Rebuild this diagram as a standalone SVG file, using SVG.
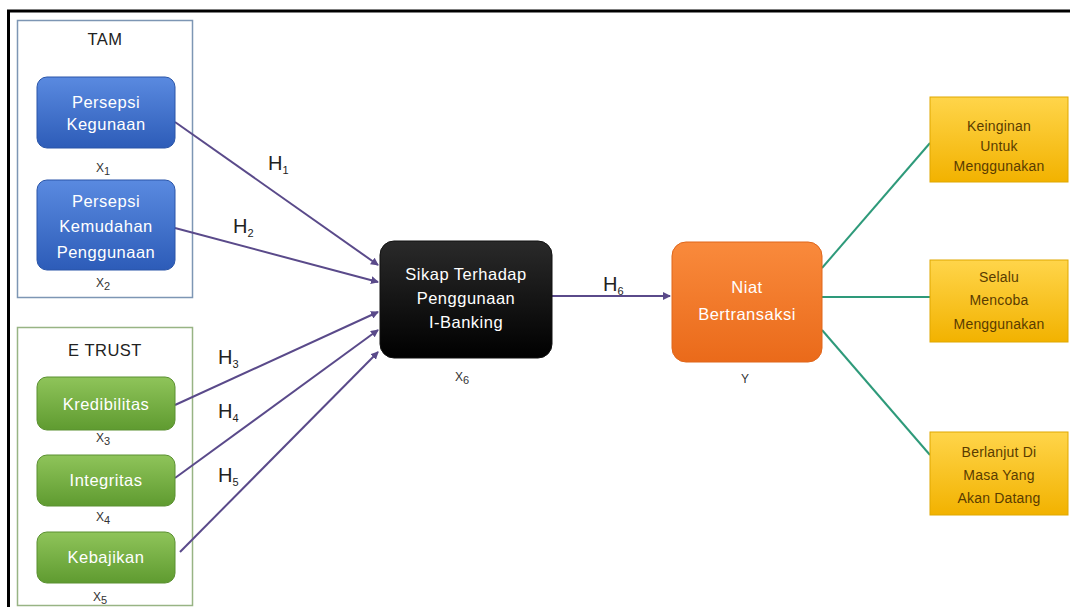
<svg xmlns="http://www.w3.org/2000/svg" width="1070" height="607" viewBox="0 0 1070 607">
<style>
.t{font-family:"Liberation Sans",Arial,sans-serif;font-size:16.5px;text-anchor:middle;letter-spacing:0.5px}
.w{fill:#ffffff}
.y{fill:#5a3c00;font-size:14px;letter-spacing:0.2px}
.lbl{font-family:"Liberation Sans",Arial,sans-serif;font-size:20px;fill:#222}
.sub{font-size:11px}
.xl{font-family:"Liberation Sans",Arial,sans-serif;font-size:12px;fill:#333;text-anchor:middle}
.p{stroke:#5a4a8a;stroke-width:2;fill:none}
.g{stroke:#2e9a7a;stroke-width:2;fill:none}
</style>
<defs>
<linearGradient id="gb" x1="0" y1="0" x2="0" y2="1"><stop offset="0" stop-color="#5a8ae0"/><stop offset="1" stop-color="#2d5cb8"/></linearGradient>
<linearGradient id="gg" x1="0" y1="0" x2="0" y2="1"><stop offset="0" stop-color="#8fc45a"/><stop offset="1" stop-color="#5f9b30"/></linearGradient>
<linearGradient id="gk" x1="0" y1="0" x2="0" y2="1"><stop offset="0" stop-color="#2a2a2a"/><stop offset="1" stop-color="#000000"/></linearGradient>
<linearGradient id="go" x1="0" y1="0" x2="0" y2="1"><stop offset="0" stop-color="#f98a3c"/><stop offset="1" stop-color="#ea6a1a"/></linearGradient>
<linearGradient id="gy" x1="0" y1="0" x2="0" y2="1"><stop offset="0" stop-color="#ffd54a"/><stop offset="1" stop-color="#f2b200"/></linearGradient>
<marker id="ap" markerWidth="8" markerHeight="8" refX="7" refY="4" orient="auto" markerUnits="userSpaceOnUse"><path d="M0,0 L8,4 L0,8 z" fill="#5a4a8a"/></marker>
</defs>
<rect width="1070" height="607" fill="#ffffff"/>
<g id="frame">
<line x1="7" y1="11" x2="1070" y2="11" stroke="#000" stroke-width="3"/>
<line x1="8.5" y1="10" x2="8.5" y2="607" stroke="#000" stroke-width="3"/>
</g>
<g id="tam">
<rect x="17.5" y="20.5" width="175" height="277" fill="none" stroke="#7d96b4" stroke-width="1.5"/>
<text class="t" x="105" y="45" fill="#222" font-size="14" letter-spacing="0">TAM</text>
</g>
<g id="etrust">
<rect x="17.5" y="327.5" width="175" height="278" fill="none" stroke="#98b484" stroke-width="1.5"/>
<text class="t" x="105" y="356" fill="#222" font-size="15" letter-spacing="0">E TRUST</text>
</g>
<g id="connectors">
<line class="p" x1="175" y1="122" x2="378" y2="265" marker-end="url(#ap)"/>
<line class="p" x1="175" y1="228" x2="378" y2="282" marker-end="url(#ap)"/>
<line class="p" x1="175" y1="405" x2="378" y2="312" marker-end="url(#ap)"/>
<line class="p" x1="175" y1="478" x2="378" y2="330" marker-end="url(#ap)"/>
<line class="p" x1="180" y1="552" x2="378" y2="352" marker-end="url(#ap)"/>
<line class="p" x1="552" y1="296" x2="670" y2="296" marker-end="url(#ap)"/>
<line class="g" x1="822" y1="268" x2="930" y2="143"/>
<line class="g" x1="822" y1="297" x2="930" y2="297" stroke-width="2.5"/>
<line class="g" x1="822" y1="330" x2="930" y2="455"/>
<text class="lbl" x="268" y="170">H<tspan class="sub" dy="4">1</tspan></text>
<text class="lbl" x="233" y="233">H<tspan class="sub" dy="4">2</tspan></text>
<text class="lbl" x="218" y="364">H<tspan class="sub" dy="4">3</tspan></text>
<text class="lbl" x="218" y="418">H<tspan class="sub" dy="4">4</tspan></text>
<text class="lbl" x="218" y="482">H<tspan class="sub" dy="4">5</tspan></text>
<text class="lbl" x="603" y="291">H<tspan class="sub" dy="4">6</tspan></text>
</g>
<g id="x1">
<rect x="37" y="77" width="138" height="71" rx="10" fill="url(#gb)" stroke="#2a55a8"/>
<text class="t w" x="106" y="108">Persepsi</text>
<text class="t w" x="106" y="130">Kegunaan</text>
<text class="xl" x="103" y="172">X<tspan class="sub" dy="3">1</tspan></text>
</g>
<g id="x2">
<rect x="37" y="180" width="138" height="90" rx="10" fill="url(#gb)" stroke="#2a55a8"/>
<text class="t w" x="106" y="207">Persepsi</text>
<text class="t w" x="106" y="232">Kemudahan</text>
<text class="t w" x="106" y="258">Penggunaan</text>
<text class="xl" x="103" y="287">X<tspan class="sub" dy="3">2</tspan></text>
</g>
<g id="x3">
<rect x="37" y="377" width="138" height="53" rx="10" fill="url(#gg)" stroke="#5a9030"/>
<text class="t w" x="106" y="410">Kredibilitas</text>
<text class="xl" x="103" y="442">X<tspan class="sub" dy="3">3</tspan></text>
</g>
<g id="x4">
<rect x="37" y="455" width="138" height="51" rx="10" fill="url(#gg)" stroke="#5a9030"/>
<text class="t w" x="106" y="486">Integritas</text>
<text class="xl" x="103" y="521">X<tspan class="sub" dy="3">4</tspan></text>
</g>
<g id="x5">
<rect x="37" y="532" width="138" height="51" rx="10" fill="url(#gg)" stroke="#5a9030"/>
<text class="t w" x="106" y="563">Kebajikan</text>
<text class="xl" x="100" y="601">X<tspan class="sub" dy="3">5</tspan></text>
</g>
<g id="x6">
<rect x="380" y="241" width="172" height="117" rx="14" fill="url(#gk)" stroke="#111"/>
<text class="t w" x="466" y="280">Sikap Terhadap</text>
<text class="t w" x="466" y="304">Penggunaan</text>
<text class="t w" x="466" y="328">I-Banking</text>
<text class="xl" x="462" y="381">X<tspan class="sub" dy="3">6</tspan></text>
</g>
<g id="y">
<rect x="672" y="242" width="150" height="120" rx="14" fill="url(#go)" stroke="#e0661a"/>
<text class="t w" x="747" y="293">Niat</text>
<text class="t w" x="747" y="320">Bertransaksi</text>
<text class="xl" x="745" y="383">Y</text>
</g>
<g id="y1">
<rect x="930" y="97" width="138" height="85" fill="url(#gy)" stroke="#e0a800"/>
<text class="t y" x="999" y="131">Keinginan</text>
<text class="t y" x="999" y="151">Untuk</text>
<text class="t y" x="999" y="171">Menggunakan</text>
</g>
<g id="y2">
<rect x="930" y="260" width="138" height="82" fill="url(#gy)" stroke="#e0a800"/>
<text class="t y" x="999" y="282">Selalu</text>
<text class="t y" x="999" y="305">Mencoba</text>
<text class="t y" x="999" y="329">Menggunakan</text>
</g>
<g id="y3">
<rect x="930" y="432" width="138" height="83" fill="url(#gy)" stroke="#e0a800"/>
<text class="t y" x="999" y="457">Berlanjut Di</text>
<text class="t y" x="999" y="480">Masa Yang</text>
<text class="t y" x="999" y="503">Akan Datang</text>
</g>
</svg>
